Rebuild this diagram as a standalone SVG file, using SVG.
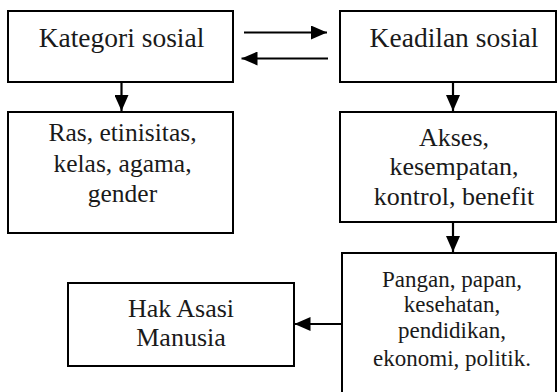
<svg xmlns="http://www.w3.org/2000/svg" width="557" height="392" viewBox="0 0 557 392">
<defs>
<style>
.box{fill:#fff;stroke:#000;stroke-width:2}
.t{fill:#1a1a1a;text-anchor:middle}
.edge{stroke:#000;stroke-width:2.2;fill:none;marker-end:url(#ah)}
</style>
<marker id="ah" markerUnits="userSpaceOnUse" markerWidth="16" markerHeight="14" viewBox="0 0 16 14" refX="16" refY="7" orient="auto">
<path d="M0,0 L16,7 L0,14 z" fill="#000"/>
</marker>
</defs>
<rect width="557" height="392" fill="#fff"/>
<g font-family="Liberation Serif, DejaVu Serif, serif">
<g id="kategori">
<rect class="box" x="8" y="11" width="225" height="71"/>
<text class="t" x="121.5" y="47" font-size="27.5">Kategori sosial</text>
</g>
<g id="ras">
<rect class="box" x="8" y="112" width="225" height="121"/>
<text class="t" x="122.5" y="141" font-size="25.5">Ras, etinisitas,</text>
<text class="t" x="122.5" y="172" font-size="25.5">kelas, agama,</text>
<text class="t" x="122.5" y="202" font-size="25.5">gender</text>
</g>
<g id="keadilan">
<rect class="box" x="340" y="11" width="216" height="71"/>
<text class="t" x="454" y="47" font-size="27.5">Keadilan sosial</text>
</g>
<g id="akses">
<rect class="box" x="340" y="112" width="216" height="110"/>
<text class="t" x="454" y="146" font-size="26">Akses,</text>
<text class="t" x="454" y="175" font-size="26">kesempatan,</text>
<text class="t" x="454" y="205" font-size="26">kontrol, benefit</text>
</g>
<g id="pangan">
<rect class="box" x="342" y="253" width="214" height="150"/>
<text class="t" x="452" y="287" font-size="23">Pangan, papan,</text>
<text class="t" x="452" y="312" font-size="23">kesehatan,</text>
<text class="t" x="452" y="338" font-size="23">pendidikan,</text>
<text class="t" x="452" y="366" font-size="23">ekonomi, politik.</text>
</g>
<g id="ham">
<rect class="box" x="68" y="283" width="226" height="83"/>
<text class="t" x="181" y="317" font-size="26">Hak Asasi</text>
<text class="t" x="181" y="346" font-size="26">Manusia</text>
</g>
</g>
<g id="connectors">
<line class="edge" x1="121.5" y1="82" x2="121.5" y2="111"/>
<line class="edge" x1="244" y1="32.5" x2="327" y2="32.5"/>
<line class="edge" x1="328" y1="58.5" x2="241.5" y2="58.5"/>
<line class="edge" x1="453" y1="82" x2="453" y2="111"/>
<line class="edge" x1="453" y1="222" x2="453" y2="252"/>
<line class="edge" x1="341" y1="324" x2="294.5" y2="324"/>
</g>
</svg>
